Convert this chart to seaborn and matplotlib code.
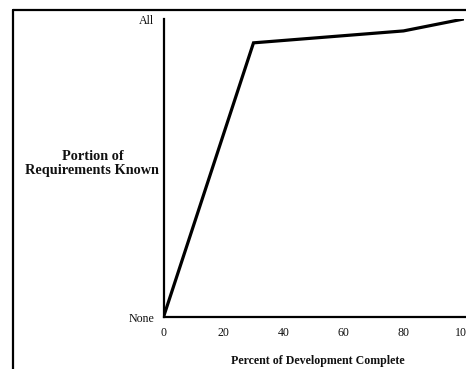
import numpy as np
import pandas as pd
import matplotlib
matplotlib.use("Agg")
import matplotlib.pyplot as plt
import seaborn as sns
from matplotlib.lines import Line2D

sns.set_style("white")
plt.rcParams['font.family'] = ['Liberation Serif', 'DejaVu Serif']

# percent of development complete vs portion of requirements known
pct_complete = [0, 30, 80, 100]
portion_known = [0.0, 0.92, 0.96, 1.0]
x_ticks = [0, 20, 40, 60, 80, 100]
y_ticks = [0, 1]
y_tick_labels = ['None', 'All']

df = pd.DataFrame({'pct': pct_complete, 'known': portion_known})

W, H = 466, 369
fig = plt.figure(figsize=(W / 100, H / 100), dpi=100)
ax = fig.add_axes([163.5 / W, (H - 317) / H, 300 / W, 298 / H])

sns.lineplot(data=df, x='pct', y='known', color='black', linewidth=2.3, ax=ax,
             solid_joinstyle='miter')
ax.set_xlim(0, 100)
ax.set_ylim(0, 1)
ax.set_xticks(x_ticks)
ax.set_yticks(y_ticks)
ax.set_yticklabels(y_tick_labels)
ax.tick_params(length=0, labelsize=8.6, pad=7, labelcolor='#111111')
ax.tick_params(axis='y', pad=6.5)

for s in ['top', 'right']:
    ax.spines[s].set_visible(False)
for s in ['left', 'bottom']:
    ax.spines[s].set_linewidth(1.6)
    ax.spines[s].set_color('black')
ax.spines['bottom'].set_bounds(0, 101)

ax.set_xlabel('Percent of Development Complete', fontsize=8.6, fontweight='bold',
              color='#111111')
ax.xaxis.set_label_coords(0.515, -0.128)
ax.set_ylabel('Portion of\nRequirements Known', fontsize=10.3, fontweight='bold',
              rotation=0, ha='center', va='center', linespacing=1.12, color='#111111')
ax.yaxis.set_label_coords(-0.237, 0.515)

# outer frame (cropped at right and bottom)
fx0 = 12.5 / W
fy0 = (H - 9.5) / H
fig.add_artist(Line2D([fx0, fx0], [-0.05, fy0], color='black', linewidth=1.6))
fig.add_artist(Line2D([fx0, 1.05], [fy0, fy0], color='black', linewidth=1.6))

fig.savefig('out.png', dpi=100)
